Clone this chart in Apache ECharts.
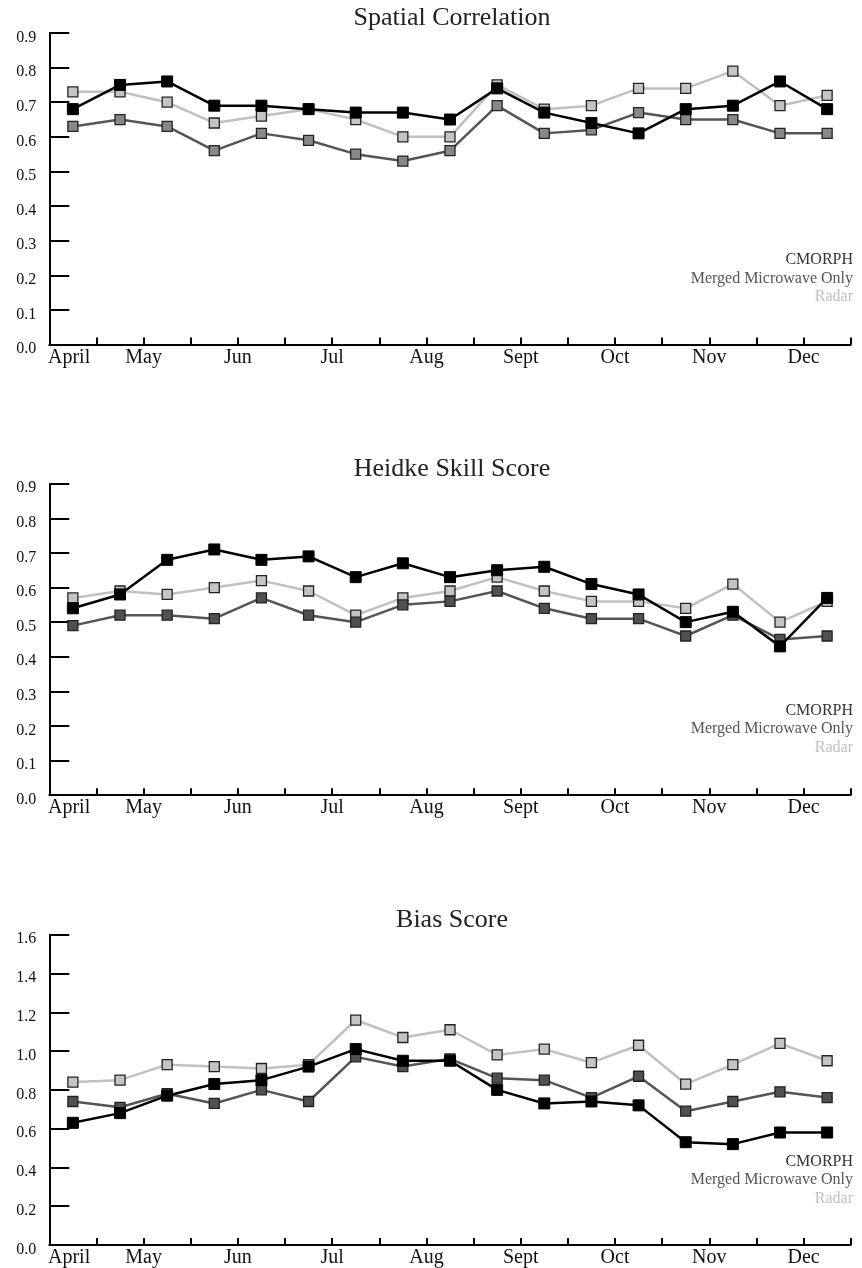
<!DOCTYPE html>
<html>
<head>
<meta charset="utf-8">
<script src="https://cdn.jsdelivr.net/npm/echarts@6/dist/echarts.min.js"></script>
<style>
html,body{margin:0;padding:0;background:#fff;}
#chart{width:862px;height:1268px;}
</style>
</head>
<body>
<div id="chart"></div>
<script>
// ---- data ----
var titles = ['Spatial Correlation', 'Heidke Skill Score', 'Bias Score'];
var seriesNames = ['CMORPH', 'Merged Microwave Only', 'Radar'];
var monthLabels = ['April', 'May', 'Jun', 'Jul', 'Aug', 'Sept', 'Oct', 'Nov', 'Dec'];
var monthLabelPos = [0.42, 2, 4, 6, 8, 10, 12, 14, 16];
var periodTicks = [0,1,2,3,4,5,6,7,8,9,10,11,12,13,14,15,16,17];

var spatialCMORPH = [0.68,0.75,0.76,0.69,0.69,0.68,0.67,0.67,0.65,0.74,0.67,0.64,0.61,0.68,0.69,0.76,0.68];
var spatialMerged = [0.63,0.65,0.63,0.56,0.61,0.59,0.55,0.53,0.56,0.69,0.61,0.62,0.67,0.65,0.65,0.61,0.61];
var spatialRadar  = [0.73,0.73,0.70,0.64,0.66,0.68,0.65,0.60,0.60,0.75,0.68,0.69,0.74,0.74,0.79,0.69,0.72];

var heidkeCMORPH = [0.54,0.58,0.68,0.71,0.68,0.69,0.63,0.67,0.63,0.65,0.66,0.61,0.58,0.50,0.53,0.43,0.57];
var heidkeMerged = [0.49,0.52,0.52,0.51,0.57,0.52,0.50,0.55,0.56,0.59,0.54,0.51,0.51,0.46,0.52,0.45,0.46];
var heidkeRadar  = [0.57,0.59,0.58,0.60,0.62,0.59,0.52,0.57,0.59,0.63,0.59,0.56,0.56,0.54,0.61,0.50,0.56];

var biasCMORPH = [0.63,0.68,0.77,0.83,0.85,0.92,1.01,0.95,0.95,0.80,0.73,0.74,0.72,0.53,0.52,0.58,0.58];
var biasMerged = [0.74,0.71,0.78,0.73,0.80,0.74,0.97,0.92,0.96,0.86,0.85,0.76,0.87,0.69,0.74,0.79,0.76];
var biasRadar  = [0.84,0.85,0.93,0.92,0.91,0.93,1.16,1.07,1.11,0.98,1.01,0.94,1.03,0.83,0.93,1.04,0.95];

var yMax = [0.9, 0.9, 1.6];
var yInterval = [0.1, 0.1, 0.2];

// ---- layout / style ----
var FONT = '"Liberation Serif", "Times New Roman", serif';
var gridTops = [33, 483.7, 934.7];
var gridH = 311.5;
var gridLeft = 49.3;
var gridW = 801.4;
var mergedFill = ['#888888', '#505050', '#505050'];

var panels = [
  [spatialCMORPH, spatialMerged, spatialRadar],
  [heidkeCMORPH, heidkeMerged, heidkeRadar],
  [biasCMORPH, biasMerged, biasRadar]
];

function toPoints(arr) {
  return arr.map(function (v, i) { return [i + 0.5, v]; });
}

var grids = [], xAxes = [], yAxes = [], series = [], graphics = [];

for (var p = 0; p < 3; p++) {
  grids.push({ left: gridLeft, top: gridTops[p], width: gridW, height: gridH, containLabel: false });
  xAxes.push({
    type: 'value', gridIndex: p, min: 0, max: 17,
    axisLine: { show: true, onZero: false, lineStyle: { color: '#000', width: 2 } },
    axisTick: { show: true, inside: true, length: 7, customValues: periodTicks, lineStyle: { color: '#000', width: 2 } },
    axisLabel: {
      show: true, customValues: monthLabelPos, margin: 3, color: '#111',
      fontFamily: FONT, fontSize: 20,
      formatter: function (v) {
        var idx = monthLabelPos.indexOf(v);
        return idx >= 0 ? monthLabels[idx] : '';
      }
    },
    splitLine: { show: false }
  });
  yAxes.push({
    type: 'value', gridIndex: p, min: 0, max: yMax[p], interval: yInterval[p],
    axisLine: { show: true, onZero: false, lineStyle: { color: '#000', width: 2 } },
    axisTick: { show: true, inside: true, length: 20, lineStyle: { color: '#000', width: 2 } },
    axisLabel: {
      margin: 13, color: '#111', fontFamily: FONT, fontSize: 16,
      formatter: function (v) { return '{t|' + v.toFixed(1) + '}'; },
      rich: { t: { fontFamily: FONT, fontSize: 16, color: '#111', padding: [9, 0, 0, 0] } }
    },
    splitLine: { show: false }
  });

  var d = panels[p];
  // draw order: Radar, Merged, CMORPH (CMORPH on top)
  series.push({
    name: seriesNames[2], type: 'line', xAxisIndex: p, yAxisIndex: p,
    data: toPoints(d[2]), symbol: 'rect', symbolSize: 10,
    lineStyle: { color: '#c0c0c0', width: 2.5 },
    itemStyle: { color: '#c4c4c4', borderColor: '#222', borderWidth: 1.3 },
    z: 2, animation: false
  });
  series.push({
    name: seriesNames[1], type: 'line', xAxisIndex: p, yAxisIndex: p,
    data: toPoints(d[1]), symbol: 'rect', symbolSize: 10,
    lineStyle: { color: '#555555', width: 2.5 },
    itemStyle: { color: mergedFill[p], borderColor: '#222', borderWidth: 1.3 },
    z: 3, animation: false
  });
  series.push({
    name: seriesNames[0], type: 'line', xAxisIndex: p, yAxisIndex: p,
    data: toPoints(d[0]), symbol: 'rect', symbolSize: 11,
    lineStyle: { color: '#000000', width: 2.5 },
    itemStyle: { color: '#000', borderColor: '#000', borderWidth: 1 },
    z: 4, animation: false
  });

  // title
  graphics.push({
    type: 'text', x: 452, y: gridTops[p] - 14.5,
    style: { text: titles[p], fill: '#222', font: '26px ' + FONT, align: 'center', verticalAlign: 'middle' }
  });
  // legend text
  var legColors = ['#333333', '#555555', '#c0c0c0'];
  for (var k = 0; k < 3; k++) {
    graphics.push({
      type: 'text', x: 853, y: gridTops[p] + 227 + k * 18.4,
      style: { text: seriesNames[k], fill: legColors[k], font: '16px ' + FONT, align: 'right', verticalAlign: 'middle' }
    });
  }
}

var chart = echarts.init(document.getElementById('chart'), null, { renderer: 'canvas' });
chart.setOption({
  backgroundColor: '#fff',
  animation: false,
  grid: grids,
  xAxis: xAxes,
  yAxis: yAxes,
  series: series,
  graphic: graphics
});
</script>
</body>
</html>
